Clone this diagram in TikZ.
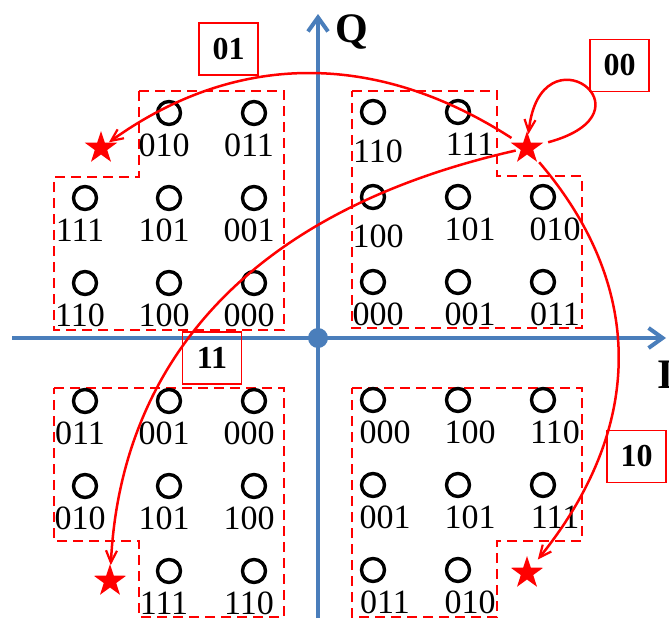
\documentclass[tikz,border=0pt]{standalone}
\usepackage{fontspec}
\setmainfont{Liberation Serif}
\usepackage{xcolor}
\usetikzlibrary{arrows.meta, calc, shapes.geometric}

\definecolor{axisblue}{RGB}{74,126,187}

\begin{document}
\begin{tikzpicture}[x=0.5pt, y=-0.5pt,
    every node/.style={font=\fontsize{17}{17}\selectfont},
    pt/.style={circle, draw, line width=1.7pt, minimum size=11.5pt, inner sep=0pt},
    every label/.style={inner sep=0pt, label distance=3.5pt},
    lblL/.style={xshift=-2.5pt},
    lblR/.style={xshift=6pt},
    lblM/.style={xshift=2.5pt},
    sym/.style={star, star points=5, star point ratio=2.6, fill=red, draw=none, minimum size=17pt, inner sep=0pt},
    region/.style={draw=red, dashed, dash pattern=on 5pt off 3pt, line width=1.25pt},
    axis/.style={draw=axisblue, line width=2pt, -{Straight Barb[length=7pt, width=10pt, line width=2pt]}},
    trans/.style={draw=red, line width=1.25pt, -{Straight Barb[length=6pt, width=5.5pt, line width=1.1pt]}},
    bitbox/.style={draw=red, line width=0.7pt, font=\fontsize{16}{16}\selectfont\bfseries, minimum width=29.5pt, minimum height=26pt, inner sep=0pt},
    axlbl/.style={font=\fontsize{21}{21}\selectfont\bfseries, inner sep=0pt}]
  \useasboundingbox (0,0) rectangle (669,621);

  % dashed regions
  \draw[region] (139,91) -- (284,91) -- (284,330) -- (54,330) -- (54,177) -- (139,177) -- cycle;
  \draw[region] (352,91) -- (497,91) -- (497,176) -- (582,176) -- (582,328) -- (352,328) -- cycle;
  \draw[region] (54,388) -- (284,388) -- (284,617) -- (139,617) -- (139,541) -- (54,541) -- cycle;
  \draw[region] (352,388) -- (582,388) -- (582,541) -- (497,541) -- (497,617) -- (352,617) -- cycle;

  % axes
  \coordinate (xl) at (12,338);
  \coordinate (xr) at (666,338);
  \coordinate (yb) at (318,618);
  \coordinate (yt) at (318,14);
  \draw[axis] (xl) -- (xr);
  \draw[axis] (yb) -- (yt);
  \node[circle, fill=axisblue, minimum size=10pt, inner sep=0pt] (orig) at (318,338) {};
  \node[axlbl, anchor=base] (qlbl) at (352,42) {Q};
  \node[axlbl, anchor=base west] (ilbl) at (657,388) {I};

  % upper left
  \node[pt, label={[lblL]below:010}] (ul2) at (169,113) {};
  \node[pt, label={[lblL]below:011}] (ul3) at (254,113) {};
  \node[pt, label={[lblL]below:111}] (ul4) at (85,198) {};
  \node[pt, label={[lblL]below:101}] (ul5) at (169,198) {};
  \node[pt, label={[lblL]below:001}] (ul6) at (254,198) {};
  \node[pt, label={[lblL]below:110}] (ul7) at (85,283) {};
  \node[pt, label={[lblL]below:100}] (ul8) at (169,283) {};
  \node[pt, label={[lblL]below:000}] (ul9) at (254,283) {};

  % upper right
  \node[pt, label={[lblM, yshift=-3.5pt]below:110}] (ur1) at (373,112) {};
  \node[pt, label={[lblR]below:111}] (ur2) at (458,112) {};
  \node[pt, label={[lblM, yshift=-3.5pt]below:100}] (ur4) at (373,197) {};
  \node[pt, label={[lblR]below:101}] (ur5) at (458,197) {};
  \node[pt, label={[lblR]below:010}] (ur6) at (543,197) {};
  \node[pt, label={[lblM]below:000}] (ur7) at (373,282) {};
  \node[pt, label={[lblR]below:001}] (ur8) at (458,282) {};
  \node[pt, label={[lblR]below:011}] (ur9) at (543,282) {};

  % lower left
  \node[pt, label={[lblL]below:011}] (ll1) at (85,401) {};
  \node[pt, label={[lblL]below:001}] (ll2) at (169,401) {};
  \node[pt, label={[lblL]below:000}] (ll3) at (254,401) {};
  \node[pt, label={[lblL]below:010}] (ll4) at (85,486) {};
  \node[pt, label={[lblL]below:101}] (ll5) at (169,486) {};
  \node[pt, label={[lblL]below:100}] (ll6) at (254,486) {};
  \node[pt, label={[lblL]below:111}] (ll8) at (169,571) {};
  \node[pt, label={[lblL]below:110}] (ll9) at (254,571) {};

  % lower right
  \node[pt, label={[lblR]below:000}] (lr1) at (373,400) {};
  \node[pt, label={[lblR]below:100}] (lr2) at (458,400) {};
  \node[pt, label={[lblR]below:110}] (lr3) at (543,400) {};
  \node[pt, label={[lblR]below:001}] (lr4) at (373,485) {};
  \node[pt, label={[lblR]below:101}] (lr5) at (458,485) {};
  \node[pt, label={[lblR]below:111}] (lr6) at (543,485) {};
  \node[pt, label={[lblR]below:011}] (lr7) at (373,570) {};
  \node[pt, label={[lblR]below:010}] (lr8) at (458,570) {};

  % transmitted symbols
  \node[sym] (s00) at (527,148) {};
  \node[sym] (s01) at (101,148) {};
  \node[sym] (s11) at (110,581) {};
  \node[sym] (s10) at (527,573) {};

  % transitions
  \draw[trans, shorten <=4pt] (s00) .. controls (375,50) and (235,52) .. (s01);
  \draw[trans, shorten <=3pt] (s00) .. controls (660,112) and (540,25) .. (s00);
  \draw[trans, shorten <=2pt] (s00) .. controls (230,215) and (120,380) .. (s11);
  \draw[trans, shorten <=2pt, shorten >=5pt] (s00) .. controls (640,280) and (650,420) .. (s10);

  \node[bitbox] (b01) at (228.5,49) {01};
  \node[bitbox] (b00) at (619.5,65.5) {00};
  \node[bitbox] (b11) at (212,358) {11};
  \node[bitbox] (b10) at (636.5,456.5) {10};
\end{tikzpicture}
\end{document}
